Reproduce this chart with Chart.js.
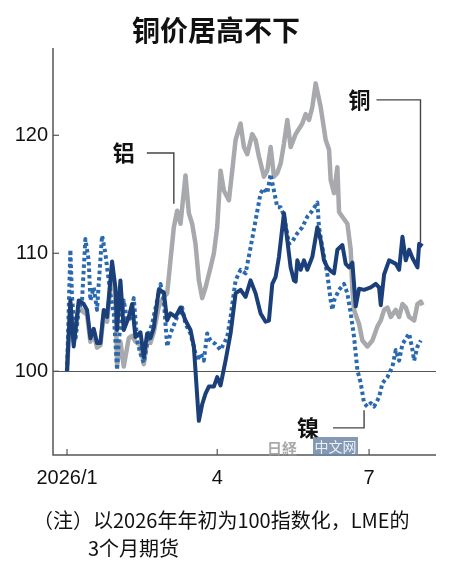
<!DOCTYPE html>
<html>
<head>
<meta charset="utf-8">
<script src="https://cdn.jsdelivr.net/npm/chart.js@4.4.1/dist/chart.umd.min.js"></script>
<style>
  html, body { margin: 0; padding: 0; background: #fff; }
  #wrap { width: 450px; height: 570px; position: relative; }
</style>
</head>
<body>
<div id="wrap"><canvas id="c" width="450" height="570"></canvas></div>
<script>
// ---- Data (days since 2026-01-01, index: start of 2026 = 100) ----
const titleText = "铜价居高不下";
const noteLine1 = "（注）以2026年年初为100指数化，LME的";
const noteLine2 = "3个月期货";

const xTickDays   = [0, 90, 181];
const xTickLabels = ["2026/1", "4", "7"];
const yTickValues = [100, 110, 120];

const copperDays = [0,2,4,7,10,12,14,16,18,20,22,24,27,29,30,32,34,37,39,41,44,46,48,50,52,55,58,60,62,65,68,71,74,76,79,81,83,85,88,90,92,95,98,101,104,107,110,113,116,119,121,123,125,127,130,132,134,136,137,138,140,142,144,147,150,152,154,156,158,160,162,165,167,169,171,173,175,178,182,185,187,188,190,193,197,199,201,203,205,207,210,211,213];
const copperVals = [100,106,102.1,106,105.7,105.2,102.8,103.6,102.4,102.4,105.2,104.6,109.3,107.1,103.5,107.7,103.5,104.6,105.7,102.9,103.3,101.2,103.2,102.8,103.7,106.9,106.7,104.3,104.9,104.6,105.4,104.3,103.5,102.1,95.8,97.2,98.1,98.7,98.7,99.5,98.8,100.9,103.2,106.6,106.9,106.3,107.7,106.6,104.9,104.2,104.3,107.4,108,109.7,113.4,111.1,108.8,107.7,107.6,109.4,108.6,109.4,108.6,109.7,112.2,111.1,109.4,108.8,108.5,108.3,110.3,110.7,109.1,108.8,109.2,105.5,107,106.9,107.1,107.4,107.1,105.6,108.2,109.4,109.1,108.6,111.4,109.4,110.3,109.6,108.8,110.8,110.6];

const aluminiumDays = [0,2,4,7,10,12,14,16,18,20,22,24,27,29,30,32,34,37,39,41,44,46,48,50,52,55,58,60,62,64,66,68,71,73,75,77,79,81,83,86,88,90,92,94,97,99,101,104,106,108,111,113,115,118,120,122,124,126,128,130,132,134,137,141,143,145,147,149,152,155,157,158,160,162,163,165,168,170,171,172,175,177,180,183,186,188,190,192,194,197,199,201,203,205,208,210,212,213];
const aluminiumVals = [100,105.5,102.5,105.5,105,104.8,102.5,103.2,102,102.2,104.8,104.2,108.5,106.5,100.5,102.5,100.4,102.8,103,102.5,102.2,100.6,102.5,102.4,103.3,105.5,106.3,106.6,109.4,112.2,113.6,112.5,116.6,113.4,112.5,110.8,107.7,106.2,107.1,108.8,110,112.2,117,115.3,114.5,117,119.6,121,119,118.4,120.1,119.6,118.2,116.5,117,119,116.5,116.8,117.6,119.3,121.3,119,120.1,121,121.8,121.3,122.4,124.4,122.4,119.6,118.8,116.2,115.1,117.3,113.5,113.1,112.5,110.3,106.9,105.2,104,102.6,102.1,102.6,103.8,104.3,105.2,105.4,104.6,105.2,104.6,105.7,105.4,104.6,104.3,105.7,105.9,105.6];

const nickelDays = [0,2,3,5,7,9,11,13,14,16,18,19,21,23,24,26,28,30,31,34,36,38,40,42,44,46,49,51,54,56,58,60,62,66,69,71,74,78,80,82,84,86,89,92,96,98,101,104,107,110,113,116,118,120,122,124,126,128,130,133,135,138,141,144,147,150,151,153,156,158,159,160,163,166,168,170,172,174,176,178,180,182,184,187,189,192,195,197,199,201,205,207,208,210,212];
const nickelVals = [100,110.3,106.3,102.6,105.2,106,111.2,109.4,106,107.1,105.2,107.4,111.5,110,108.8,106.6,104.9,100.1,102.6,106,104.3,104.5,106.2,102.6,101.5,100.7,103.2,104,106,107.4,106,102.1,103.2,104.6,105.4,104,103.2,100.9,101.5,100.9,103.2,102.6,102.3,101.8,102.9,104.6,107.7,108.6,108.3,110.5,112.8,115.1,115.5,115.1,116.7,115.3,113.9,113.9,113.2,110.8,111,111.7,112.2,113.1,113.6,114.3,112.2,110.5,108.2,106,105.2,106,106.9,107.4,106.6,104.9,102.9,100.1,99,97.3,97,97.3,97,97.8,99,99.5,100.4,101.8,100.9,102.3,103.2,101.8,100.9,102.1,102.6];

const seriesNames = ["铝", "镍", "铜"];

function pts(days, vals) { return days.map((d, i) => ({ x: d, y: vals[i] })); }

// ---- Layout constants ----
const AREA = { left: 53, right: 436, top: 48, bottom: 455 };
const X_MIN = -8.4, X_MAX = 221.1;
const Y_MIN = 92.9, Y_MAX = 127.4;
const AXIS_COLOR = "#555";
const CJK = '"Noto Sans CJK SC", "Noto Sans", sans-serif';
const LAT = '"Liberation Sans", Arial, sans-serif';

const decorPlugin = {
  id: "decor",
  beforeDatasetsDraw(chart) {
    const { ctx, scales } = chart;
    const xs = scales.x, ys = scales.y;
    ctx.save();
    ctx.strokeStyle = AXIS_COLOR;
    ctx.lineWidth = 1.2;
    const y100 = Math.round(ys.getPixelForValue(100)) + 0.5;
    ctx.beginPath();
    ctx.moveTo(xs.left, y100);
    ctx.lineTo(xs.right, y100);
    ctx.stroke();
    ctx.restore();
  },
  afterDraw(chart) {
    const { ctx, scales } = chart;
    const xs = scales.x, ys = scales.y;
    ctx.save();
    // axes lines
    ctx.strokeStyle = AXIS_COLOR;
    ctx.lineWidth = 1.5;
    ctx.beginPath();
    ctx.moveTo(xs.left, ys.top);
    ctx.lineTo(xs.left, ys.bottom);
    ctx.lineTo(xs.right, ys.bottom);
    ctx.stroke();
    // inward ticks
    ctx.lineWidth = 1.2;
    yTickValues.forEach(v => {
      const y = ys.getPixelForValue(v);
      ctx.beginPath();
      ctx.moveTo(xs.left, y);
      ctx.lineTo(xs.left + 6, y);
      ctx.stroke();
    });
    xTickDays.forEach(d => {
      const x = xs.getPixelForValue(d);
      ctx.beginPath();
      ctx.moveTo(x, ys.bottom);
      ctx.lineTo(x, ys.bottom - 6);
      ctx.stroke();
    });

    // Title
    ctx.fillStyle = "#111";
    ctx.font = `bold 28px ${CJK}`;
    ctx.textAlign = "center";
    ctx.textBaseline = "middle";
    ctx.fillText(titleText, 216, 30);

    // Series labels with leader lines
    ctx.strokeStyle = "#444";
    ctx.lineWidth = 1.4;
    ctx.font = `bold 22px ${CJK}`;
    ctx.fillStyle = "#111";

    // Copper
    const cLastX = xs.getPixelForValue(copperDays[copperDays.length - 1]) - 2;
    const cLastY = ys.getPixelForValue(copperVals[copperVals.length - 1] + 0.3);
    const cTopY = ys.getPixelForValue(123);
    ctx.beginPath();
    ctx.moveTo(cLastX - 44, cTopY);
    ctx.lineTo(cLastX, cTopY);
    ctx.lineTo(cLastX, cLastY);
    ctx.stroke();
    ctx.textAlign = "center";
    ctx.fillText(seriesNames[2], cLastX - 61, cTopY);

    // Aluminium
    const aX = xs.getPixelForValue(64);
    const aTopY = ys.getPixelForValue(118.5);
    const aBotY = ys.getPixelForValue(114.2);
    ctx.beginPath();
    ctx.moveTo(aX - 27, aTopY);
    ctx.lineTo(aX, aTopY);
    ctx.lineTo(aX, aBotY);
    ctx.stroke();
    ctx.fillText(seriesNames[0], aX - 50, aTopY);

    // Nickel
    const nX = xs.getPixelForValue(178);
    const nBotY = ys.getPixelForValue(95.2);
    const nTopY = ys.getPixelForValue(96.7);
    ctx.beginPath();
    ctx.moveTo(nX - 31, nBotY);
    ctx.lineTo(nX, nBotY);
    ctx.lineTo(nX, nTopY);
    ctx.stroke();
    ctx.fillText(seriesNames[1], nX - 56, nBotY);

    // Watermark
    ctx.globalAlpha = 0.85;
    ctx.fillStyle = "#6f87a6";
    ctx.fillRect(313, 437, 45, 19);
    ctx.fillStyle = "#fff";
    ctx.font = `14px ${CJK}`;
    ctx.fillText("中文网", 335.5, 447);
    ctx.fillStyle = "#9a9a9a";
    ctx.font = `bold 15px ${CJK}`;
    ctx.fillText("日経", 282, 448);
    ctx.globalAlpha = 1;

    // Footnote
    ctx.fillStyle = "#111";
    ctx.font = `20px ${CJK}`;
    ctx.textAlign = "left";
    ctx.textBaseline = "middle";
    ctx.fillText(noteLine1, 33, 520);
    ctx.fillText(noteLine2, 88, 548);
    ctx.restore();
  }
};

const chart = new Chart(document.getElementById("c"), {
  type: "line",
  data: {
    datasets: [
      {
        label: seriesNames[0],
        data: pts(aluminiumDays, aluminiumVals),
        borderColor: "#a7a9ac",
        borderWidth: 4.5,
        borderJoinStyle: "round",
        pointRadius: 0,
        tension: 0,
        order: 3
      },
      {
        label: seriesNames[1],
        data: pts(nickelDays, nickelVals),
        borderColor: "#2b69ae",
        borderWidth: 4,
        borderDash: [3.5, 3],
        borderJoinStyle: "round",
        pointRadius: 0,
        tension: 0,
        order: 2
      },
      {
        label: seriesNames[2],
        data: pts(copperDays, copperVals),
        borderColor: "#1b3f78",
        borderWidth: 4,
        borderJoinStyle: "round",
        pointRadius: 0,
        tension: 0,
        order: 1
      }
    ]
  },
  options: {
    responsive: false,
    animation: false,
    devicePixelRatio: 1,
    layout: { padding: { left: 0, right: 450 - AREA.right, top: AREA.top, bottom: 570 - AREA.bottom - 40 } },
    plugins: { legend: { display: false }, tooltip: { enabled: false }, title: { display: false } },
    scales: {
      x: {
        type: "linear",
        min: X_MIN,
        max: X_MAX,
        afterBuildTicks(scale) { scale.ticks = xTickDays.map(v => ({ value: v })); },
        afterFit(scale) { scale.height = 40; },
        grid: { display: false, drawTicks: false },
        border: { display: false },
        ticks: {
          autoSkip: false,
          maxRotation: 0,
          padding: 11,
          color: "#111",
          font: { family: LAT, size: 20 },
          callback(v) { const i = xTickDays.indexOf(v); return i >= 0 ? xTickLabels[i] : ""; }
        }
      },
      y: {
        min: Y_MIN,
        max: Y_MAX,
        afterBuildTicks(scale) { scale.ticks = yTickValues.map(v => ({ value: v })); },
        afterFit(scale) { scale.width = AREA.left; },
        grid: { display: false, drawTicks: false },
        border: { display: false },
        ticks: {
          padding: 5,
          color: "#111",
          font: { family: LAT, size: 20 },
          callback(v) { return String(v); }
        }
      }
    }
  },
  plugins: [decorPlugin]
});
</script>
</body>
</html>
